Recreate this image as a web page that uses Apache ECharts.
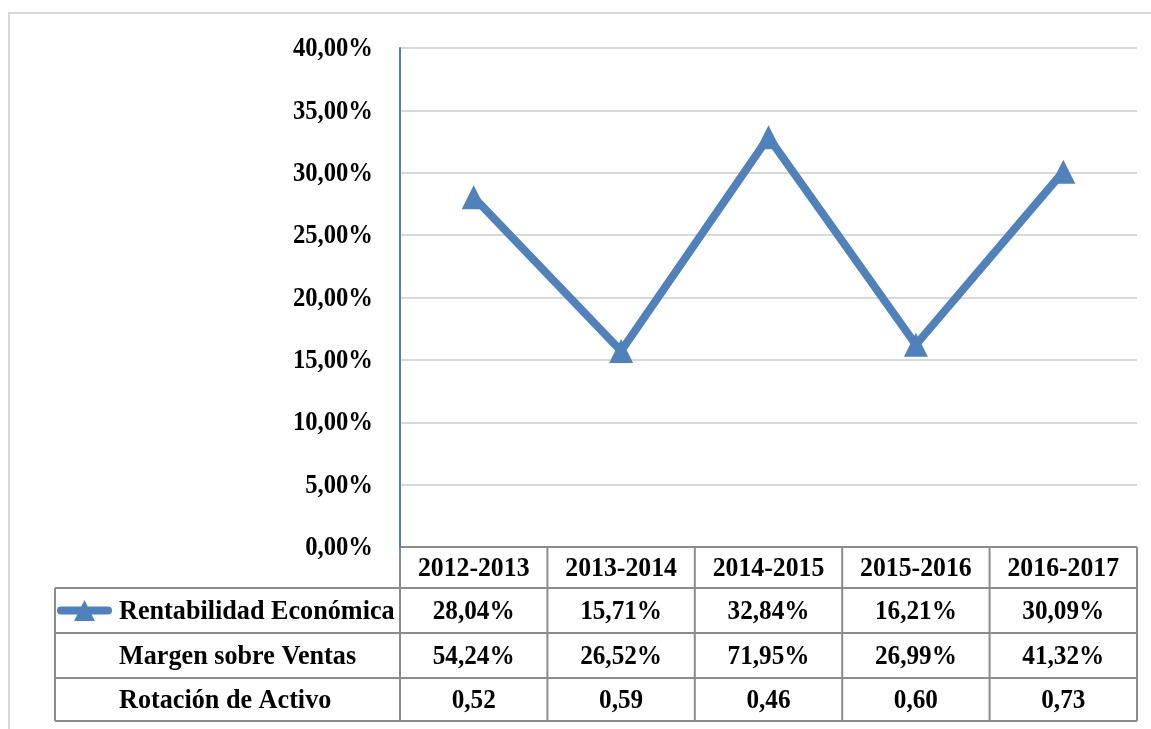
<!DOCTYPE html>
<html>
<head>
<meta charset="utf-8">
<script src="https://cdn.jsdelivr.net/npm/echarts@6/dist/echarts.min.js"></script>
<style>
  html, body { margin: 0; padding: 0; background: #fff; }
  #main { width: 1151px; height: 729px; }
</style>
</head>
<body>
<div id="main"></div>
<script>
  // datos de la tabla
  var categories = ['2012-2013', '2013-2014', '2014-2015', '2015-2016', '2016-2017'];
  var rentabilidad = [28.04, 15.71, 32.84, 16.21, 30.09];
  var margen = [54.24, 26.52, 71.95, 26.99, 41.32];
  var rotacion = [0.52, 0.59, 0.46, 0.60, 0.73];
  var rowNames = ['Rentabilidad Económica', 'Margen sobre Ventas', 'Rotación de Activo'];
  var yTicks = [0, 5, 10, 15, 20, 25, 30, 35, 40];

  var font = '"Liberation Serif", "Times New Roman", serif';
  var blue = '#4f81bd';
  var border = '#8c8c8c';

  function pct(v) { return v.toFixed(2).replace('.', ',') + '%'; }
  function num(v) { return v.toFixed(2).replace('.', ','); }

  var chart = echarts.init(document.getElementById('main'));

  chart.setOption({
    animation: false,
    grid: { left: 400, right: 14, top: 48, bottom: 182 },
    legend: {
      data: [rowNames[0]],
      left: 52,
      top: 600,
      itemWidth: 47,
      itemHeight: 26,
      itemGap: 0,
      lineStyle: { width: 8, cap: 'round' },
      formatter: function () { return ''; }
    },
    xAxis: {
      type: 'category',
      data: categories,
      boundaryGap: true,
      axisLine: { show: false },
      axisTick: { show: false },
      axisLabel: { show: false }
    },
    yAxis: {
      type: 'value',
      min: yTicks[0],
      max: yTicks[yTicks.length - 1],
      interval: 5,
      axisLine: { show: true, lineStyle: { color: blue, width: 2 } },
      axisTick: { show: false },
      axisLabel: { show: false },
      splitLine: { lineStyle: { color: '#d9d9d9', width: 2 } }
    },
    series: [{
      name: rowNames[0],
      type: 'line',
      data: rentabilidad,
      symbol: 'triangle',
      symbolSize: 24,
      itemStyle: { color: blue },
      lineStyle: { color: blue, width: 8, join: 'round', cap: 'round' }
    }]
  });

  // tabla de datos debajo del gráfico + etiquetas del eje (texto estrecho tipo Times)
  function buildTable() {
    var centers = categories.map(function (c) { return chart.convertToPixel({ xAxisIndex: 0 }, c); });
    var colW = centers.length > 1 ? centers[1] - centers[0] : 147;
    var x0 = centers[0] - colW / 2;
    var x1 = centers[centers.length - 1] + colW / 2;
    var yTop = chart.convertToPixel({ yAxisIndex: 0 }, 0);
    var rowH = [41, 45, 45, 43];
    var ys = [yTop];
    rowH.forEach(function (h) { ys.push(ys[ys.length - 1] + h); });
    var leftX = 55;
    var els = [];
    var ls = { stroke: border, lineWidth: 2 };

    // marco exterior
    els.push({ type: 'rect', shape: { x: 9, y: 13, width: 1160, height: 740 }, style: { fill: null, stroke: '#d9d9d9', lineWidth: 2 }, silent: true });

    // líneas horizontales
    els.push({ type: 'line', shape: { x1: x0, y1: ys[0], x2: x1, y2: ys[0] }, style: ls });
    for (var r = 1; r < ys.length; r++) {
      els.push({ type: 'line', shape: { x1: leftX, y1: ys[r], x2: x1, y2: ys[r] }, style: ls });
    }
    // líneas verticales
    els.push({ type: 'line', shape: { x1: leftX, y1: ys[1], x2: leftX, y2: ys[4] }, style: ls });
    for (var c = 0; c <= categories.length; c++) {
      var xx = x0 + c * colW;
      els.push({ type: 'line', shape: { x1: xx, y1: ys[0], x2: xx, y2: ys[4] }, style: ls });
    }

    var txt = function (s, x, y, align, sx) {
      return {
        type: 'text', x: x, y: y, scaleX: sx || 0.9,
        style: { text: s, font: 'bold 28px ' + font, fill: '#000', align: align || 'center', verticalAlign: 'middle' },
        silent: true
      };
    };

    // etiquetas del eje Y
    yTicks.forEach(function (t) {
      els.push(txt(pct(t), 373, chart.convertToPixel({ yAxisIndex: 0 }, t) + 1, 'right', 0.88));
    });

    var rows = [
      categories,
      rentabilidad.map(pct),
      margen.map(pct),
      rotacion.map(num)
    ];
    rows.forEach(function (row, ri) {
      var cy = (ys[ri] + ys[ri + 1]) / 2 + 1;
      row.forEach(function (s, ci) { els.push(txt(s, centers[ci], cy, 'center', ri === 0 ? 0.92 : 0.9)); });
    });
    for (var k = 0; k < rowNames.length; k++) {
      els.push(txt(rowNames[k], 119, (ys[k + 1] + ys[k + 2]) / 2 + 1, 'left', 0.935));
    }
    chart.setOption({ graphic: els, legend: { top: (ys[1] + ys[2]) / 2 - 18 } });
  }
  buildTable();
</script>
</body>
</html>
